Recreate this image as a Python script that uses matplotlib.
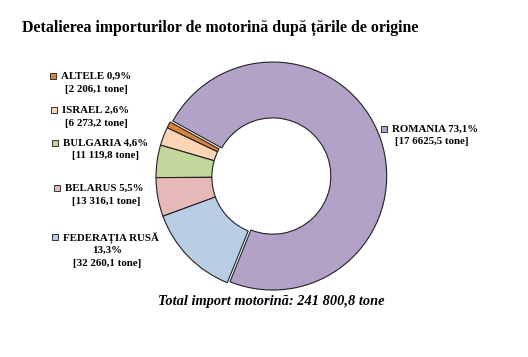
import matplotlib.pyplot as plt
from matplotlib.patches import Rectangle

# date import motorina pe tari de origine
tari = ["ROMANIA", "ALTELE", "ISRAEL", "BULGARIA", "BELARUS", "FEDERAȚIA RUSĂ"]
procente = [73.1, 0.9, 2.6, 4.6, 5.5, 13.3]
procente_txt = ["73,1%", "0,9%", "2,6%", "4,6%", "5,5%", "13,3%"]
tone_txt = ["17 6625,5", "2 206,1", "6 273,2", "11 119,8", "13 316,1", "32 260,1"]
culori = ["#B3A2C7", "#D9843B", "#FCD5B5", "#C3D69B", "#E6B9B8", "#B9CDE5"]
total_txt = "241 800,8"

W, H = 528, 357
fig = plt.figure(figsize=(W / 100, H / 100), dpi=100)
plt.rcParams['font.family'] = ['Liberation Serif', 'DejaVu Serif']

# donut
cx, cy, r = 270, 177, 114
ax = fig.add_axes([(cx - r) / W, (H - cy - r) / H, 2 * r / W, 2 * r / H])
ax.pie(procente, colors=culori, startangle=248, counterclock=True,
       explode=[0.025, 0, 0, 0, 0, 0],
       wedgeprops=dict(width=0.49, edgecolor="#222222", linewidth=0.8))
ax.set_xlim(-1, 1)
ax.set_ylim(-1, 1)
ax.axis("off")

fig.text(22 / W, 1 - 28 / H, "Detalierea importurilor de motorină după țările de origine",
         fontsize=11.4, fontweight="bold", va="center", ha="left")
fig.text(271 / W, 1 - 302 / H, f"Total import motorină: {total_txt} tone",
         fontsize=10.4, fontweight="bold", style="italic", va="center", ha="center")

fs = 7.8


def marker(x, y, col):
    s = 6
    fig.patches.append(Rectangle(((x - s / 2) / W, 1 - (y + s / 2) / H), s / W, s / H,
                                 transform=fig.transFigure, facecolor=col,
                                 edgecolor="#333333", linewidth=0.7))


def eticheta(i, xm, y1, xc, multi=False):
    marker(xm, y1, culori[i])
    if multi:
        fig.text((xm + 8) / W, 1 - y1 / H, tari[i], fontsize=fs, fontweight="bold",
                 va="center", ha="left")
        fig.text(xc / W, 1 - (y1 + 13.5) / H, procente_txt[i], fontsize=fs,
                 fontweight="bold", va="center", ha="center")
        fig.text(xc / W, 1 - (y1 + 27) / H, f"[{tone_txt[i]} tone]", fontsize=fs,
                 fontweight="bold", va="center", ha="center")
    else:
        fig.text((xm + 8) / W, 1 - y1 / H, f"{tari[i]} {procente_txt[i]}", fontsize=fs,
                 fontweight="bold", va="center", ha="left")
        fig.text(xc / W, 1 - (y1 + 13) / H, f"[{tone_txt[i]} tone]", fontsize=fs,
                 fontweight="bold", va="center", ha="center")


eticheta(1, 53, 76, 96)
eticheta(2, 54, 110, 96)
eticheta(3, 55, 143, 106)
eticheta(4, 57, 188, 106)
eticheta(5, 55, 237, 107, multi=True)
eticheta(0, 384, 129, 432)

fig.savefig("out.png", dpi=100, facecolor="white")
